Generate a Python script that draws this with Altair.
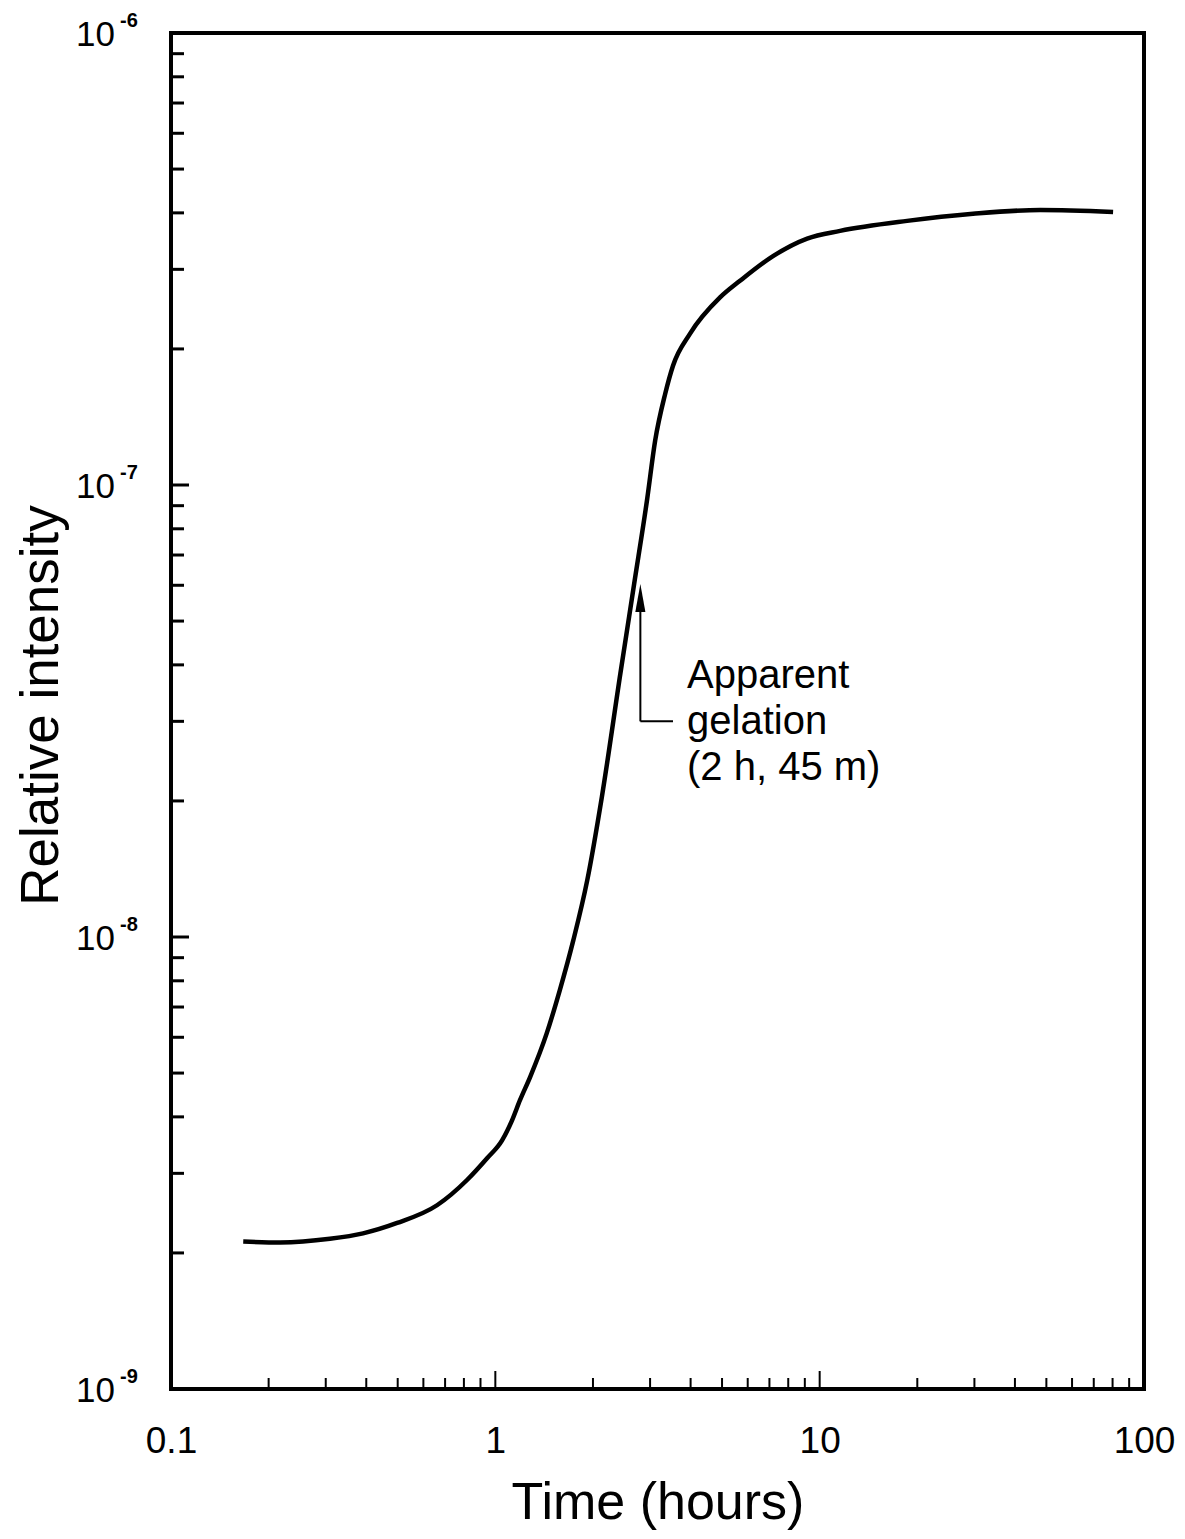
import altair as alt
import pandas as pd

# ---- data ----
time_h = [0.167, 0.217, 0.309, 0.391, 0.498, 0.661, 0.818, 0.943, 1.049, 1.126,
          1.192, 1.28, 1.44, 1.58, 1.74, 1.92, 2.13, 2.43, 2.68, 2.94, 3.11, 3.34, 3.53,
          3.98, 4.93, 5.68, 7.18, 9.15, 11.56, 18.6, 29.7, 47.9, 80.3]
intensity = [2.12e-9, 2.11e-9, 2.15e-9, 2.21e-9, 2.33e-9, 2.55e-9, 2.90e-9, 3.24e-9,
             3.55e-9, 3.93e-9, 4.36e-9, 4.90e-9, 6.12e-9, 7.62e-9, 9.84e-9, 1.334e-8,
             2.04e-8, 3.83e-8, 6.05e-8, 9.33e-8, 1.253e-7, 1.592e-7, 1.836e-7, 2.16e-7,
             2.60e-7, 2.83e-7, 3.21e-7, 3.51e-7, 3.65e-7, 3.84e-7, 3.98e-7, 4.06e-7, 4.02e-7]

x_major = [0.1, 1, 10, 100]
x_minor = [0.2, 0.3, 0.4, 0.5, 0.6, 0.7, 0.8, 0.9,
           2, 3, 4, 5, 6, 7, 8, 9,
           20, 30, 40, 50, 60, 70, 80, 90]
y_major = [1e-9, 1e-8, 1e-7, 1e-6]
y_major_exp = ["-9", "-8", "-7", "-6"]
y_minor = [m * 10.0 ** e for e in (-9, -8, -7) for m in range(2, 10)]

note_text = "Apparent\ngelation\n(2 h, 45 m)"
note_x = 3.9
note_y = 3.55e-8
arrow_x = 2.8
arrow_base_y = 3.0e-8
arrow_shaft_top = 5.3e-8
arrow_head_y = 5.62e-8
elbow_x2 = 3.53

# ---- layout ----
W, H = 973, 1356
FONT = "Liberation Sans"
xs = alt.Scale(type="log", domain=[0.1, 100], nice=False)
ys = alt.Scale(type="log", domain=[1e-9, 1e-6], nice=False)

axis_x = alt.Axis(
    values=x_major, labelExpr="format(datum.value, '~g')",
    title="Time (hours)", titleFont=FONT, titleFontSize=52, titleFontWeight="normal",
    titleColor="black", titleX=W / 2, titleY=129, titleBaseline="alphabetic",
    titleAlign="center", labelFont=FONT, labelFontSize=37, labelColor="black",
    labelPadding=63, labelBaseline="alphabetic", ticks=False, tickSize=0,
    domain=False, grid=False, labelFlush=False, labelOverlap=False)
axis_y = alt.Axis(
    title="Relative intensity", titleFont=FONT, titleFontSize=53,
    titleFontWeight="normal", titleColor="black", titleAngle=270,
    titleX=-114, titleY=672, titleBaseline="alphabetic", titleAlign="center",
    labels=False, ticks=False, tickSize=0, domain=False, grid=False)

X = lambda: alt.X("x:Q", scale=xs, axis=axis_x)
Y = lambda: alt.Y("y:Q", scale=ys, axis=axis_y)

curve_df = pd.DataFrame({"x": time_h, "y": intensity})

curve = alt.Chart(curve_df).mark_line(
    color="black", strokeWidth=4.5, interpolate="monotone"
).encode(x=X(), y=Y())

def xtick(vals, length, sw):
    return alt.Chart(pd.DataFrame({"x": vals})).mark_rule(color="black", strokeWidth=sw).encode(
        x=X(), y=alt.value(H), y2=alt.value(H - length))

def ytick(vals, length, sw):
    return alt.Chart(pd.DataFrame({"y": vals})).mark_rule(color="black", strokeWidth=sw).encode(
        y=Y(), x=alt.value(0), x2=alt.value(length))

ylab_df = pd.DataFrame({"y": y_major, "e": y_major_exp, "b": ["10"] * 4})
ylab_base = alt.Chart(ylab_df).mark_text(
    align="right", baseline="alphabetic", font=FONT, fontSize=35, color="black", dy=13
).encode(y=Y(), x=alt.value(-56), text="b:N")
ylab_exp = alt.Chart(ylab_df).mark_text(
    align="left", baseline="alphabetic", font=FONT, fontSize=20, color="black", dy=-6,
    fontWeight="bold"
).encode(y=Y(), x=alt.value(-51), text="e:N")

shaft = alt.Chart(pd.DataFrame({"x": [arrow_x], "y": [arrow_base_y], "y2": [arrow_shaft_top]})).mark_rule(
    color="black", strokeWidth=2).encode(x=X(), y=Y(), y2="y2:Q")
elbow = alt.Chart(pd.DataFrame({"x": [arrow_x], "x2": [elbow_x2], "y": [arrow_base_y]})).mark_rule(
    color="black", strokeWidth=2).encode(x=X(), x2="x2:Q", y=Y())
head = alt.Chart(pd.DataFrame({"x": [arrow_x], "y": [arrow_head_y]})).mark_point(
    shape="M0,-1L0.36,1L-0.36,1Z", filled=True, color="black", size=784, opacity=1).encode(
    x=X(), y=Y())
note = alt.Chart(pd.DataFrame({"x": [note_x], "y": [note_y], "t": [note_text]})).mark_text(
    align="left", baseline="alphabetic", font=FONT, fontSize=40, color="black",
    lineBreak="\n", lineHeight=46).encode(x=X(), y=Y(), text="t:N")

chart = alt.layer(
    curve,
    xtick(x_major, 18, 2), xtick(x_minor, 11, 2),
    ytick(y_major, 18, 3), ytick(y_minor, 13, 3),
    ylab_base, ylab_exp, shaft, elbow, head, note,
).properties(
    width=W, height=H,
    autosize=alt.AutoSizeParams(type="none"),
    padding={"left": 163, "top": 25, "right": 33, "bottom": 141},
    background="white",
).configure_view(stroke="black", strokeWidth=4)

chart.save("out.html", embed_options={"renderer": "svg", "actions": False})
